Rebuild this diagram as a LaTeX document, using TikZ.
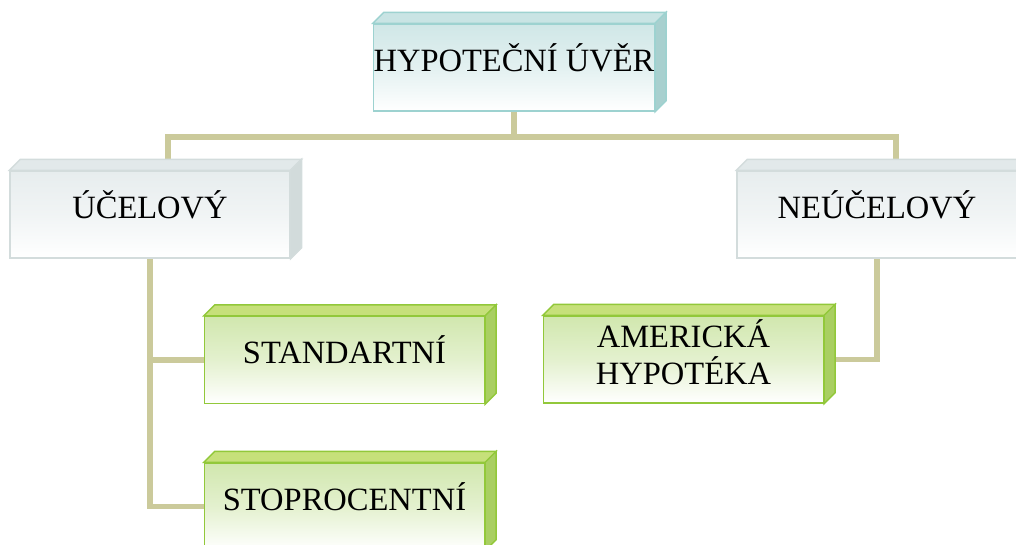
\documentclass[tikz,border=0pt]{standalone}
\usepackage{fontspec}
\setmainfont{Liberation Serif}
\usetikzlibrary{backgrounds}

\definecolor{tealline}{HTML}{9DD2D0}
\definecolor{tealtop}{HTML}{C9E4E4}
\definecolor{tealside}{HTML}{A8D0CF}
\definecolor{tealfront}{HTML}{D0E7E7}
\definecolor{grayline}{HTML}{D3DCDC}
\definecolor{graytop}{HTML}{E2E9EA}
\definecolor{grayside}{HTML}{D2DBDB}
\definecolor{grayfront}{HTML}{E7EDEE}
\definecolor{greenline}{HTML}{92C83A}
\definecolor{greentop}{HTML}{C6E07A}
\definecolor{greenside}{HTML}{A9CF62}
\definecolor{greenfront}{HTML}{D1E7AE}
\definecolor{linkcol}{HTML}{CBCA9B}

\tikzset{
	box/.style={minimum width=5.6cm, minimum height=1.74cm, inner sep=0pt,
		font=\fontsize{18.5}{21}\selectfont, text height=11pt, text depth=6.5pt, line width=0.8pt},
	tealbox/.style={box, draw=tealline, top color=tealfront, bottom color=white, middle color=tealfront!60!white},
	graybox/.style={box, draw=grayline, top color=grayfront, bottom color=white, middle color=grayfront!60!white},
	greenbox/.style={box, draw=greenline, top color=greenfront, bottom color=white, middle color=greenfront!60!white},
	link/.style={draw=linkcol, line width=3.4pt}
}

\begin{document}
\begin{tikzpicture}[x=0.02cm, y=-0.02cm]
		\useasboundingbox (0,0) rectangle (1016,544);
		%Kaesten
		\node[tealbox] (uver) at (514,67.5) {HYPOTEČNÍ ÚVĚR};
		\node[graybox] (ucel) at (150,214.5) {ÚČELOVÝ};
		\node[graybox] (neucel) at (877,214.5) {NEÚČELOVÝ};
		\node[greenbox] (stand) at (344.5,360) {STANDARTNÍ};
		\node[greenbox] (stopro) at (344.5,506.5) {STOPROCENTNÍ};
		\node[greenbox, align=center, text height=32pt, text depth=3.5pt] (amer) at (683.5,359.5) {AMERICKÁ\\HYPOTÉKA};
		%3D-Kanten
		\foreach \n/\c in {uver/teal, ucel/gray, neucel/gray, stand/green, stopro/green, amer/green}
		{
			\filldraw[fill=\c top, draw=\c line, line width=0.8pt] (\n.north west) -- ++(11,-11)
				-- ([shift={(11,-11)}]\n.north east) -- (\n.north east) -- cycle;
			\filldraw[fill=\c side, draw=\c line, line width=0.8pt] (\n.north east) -- ++(11,-11)
				-- ([shift={(11,-11)}]\n.south east) -- (\n.south east) -- cycle;
		}
		%Verbindungen
		\begin{scope}[on background layer]
			\coordinate (mid) at (514,137);
			\draw[link] (uver.south) -- (mid);
			\draw[link] ([xshift=10]ucel.north) |- (mid) -| ([xshift=11]neucel.north);
			\draw[link] (ucel.south) |- (stand.west);
			\draw[link] (ucel.south) |- (stopro.west);
			\draw[link] (neucel.south) |- (amer.east);
		\end{scope}
	\end{tikzpicture}
\end{document}
